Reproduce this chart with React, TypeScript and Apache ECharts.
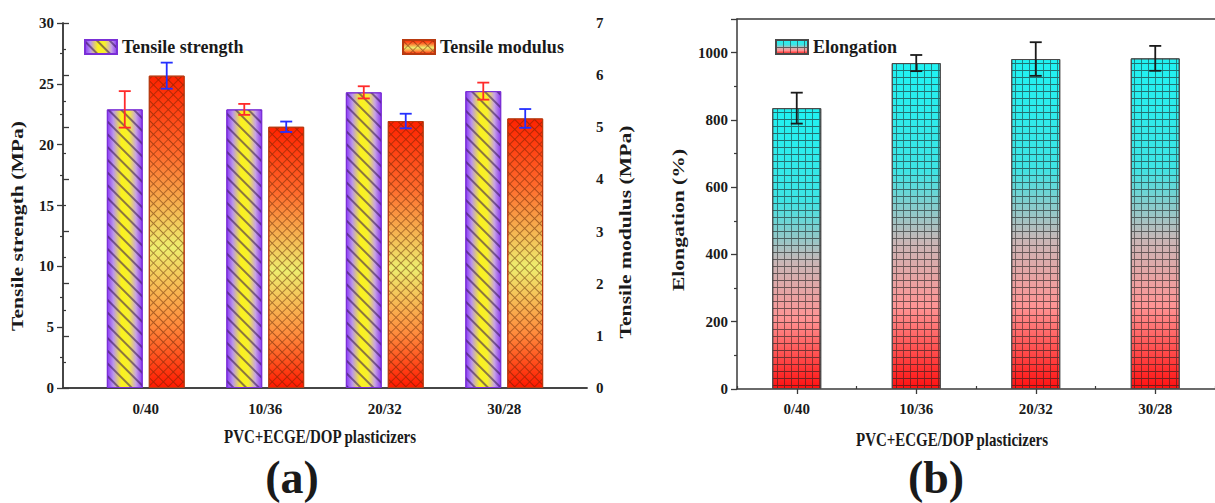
import React, { useEffect, useRef } from 'react';
import * as echarts from 'echarts';

const categories = ['0/40', '10/36', '20/32', '30/28'];
const tensileStrength = [22.9, 22.9, 24.3, 24.4];
const tensileStrengthErr = [1.5, 0.45, 0.5, 0.7];
const tensileModulus = [5.99, 5.01, 5.12, 5.17];
const tensileModulusErr = [0.25, 0.1, 0.14, 0.18];
const elongation = [835, 969, 981, 983];
const elongationErr = [46, 24, 50, 37];

const FONT = '"Liberation Serif", "Times New Roman", serif';
const AXIS_COLOR = '#3a3a3a';
const TEXT_COLOR = '#1a1a1a';

const gridPath = 'path://M0 0H8V1H1V8H0Z';

function errRender(sign: number, barRatio: number, gapRatio: number, color: string, capHalf: number) {
  return (params: any, api: any) => {
    const idx = api.value(0);
    const v = api.value(1);
    const e = api.value(2);
    const top = api.coord([idx, v + e]);
    const bot = api.coord([idx, v - e]);
    const band = api.size([1, 0])[0];
    const bw = band * barRatio;
    const x = top[0] + (sign * (bw + bw * gapRatio)) / 2;
    const style = { stroke: color, lineWidth: 1.8 };
    return {
      type: 'group',
      children: [
        { type: 'line', shape: { x1: x, y1: top[1], x2: x, y2: bot[1] }, style },
        { type: 'line', shape: { x1: x - capHalf, y1: top[1], x2: x + capHalf, y2: top[1] }, style },
        { type: 'line', shape: { x1: x - capHalf, y1: bot[1], x2: x + capHalf, y2: bot[1] }, style },
      ],
    };
  };
}

const labelStyle = { fontFamily: FONT, fontWeight: 'bold', fontSize: 15, color: TEXT_COLOR };

function frameAxis(gridIndex: number, position: string) {
  return {
    gridIndex,
    type: 'value',
    min: 0,
    max: 1,
    position,
    axisLine: { show: true, lineStyle: { color: AXIS_COLOR, width: 1.5 } },
    axisTick: { show: false },
    axisLabel: { show: false },
    splitLine: { show: false },
  };
}

function valueAxis(gridIndex: number, position: string, max: number, interval: number, extra: any = {}) {
  return {
    gridIndex,
    type: 'value',
    position,
    min: 0,
    max,
    interval,
    axisLine: { show: true, lineStyle: { color: AXIS_COLOR, width: 1.5 } },
    axisTick: { show: true, length: 6, inside: false, lineStyle: { color: AXIS_COLOR, width: 1.3 } },
    minorTick: { show: true, splitNumber: 2, length: 3, lineStyle: { color: AXIS_COLOR, width: 1.2 } },
    axisLabel: { ...labelStyle, margin: 9, formatter: (v: number) => String(v), ...(extra.axisLabel || {}) },
    splitLine: { show: false },
  };
}

function hiddenValueAxis(gridIndex: number, max: number) {
  return { gridIndex, type: 'value', min: 0, max, show: false, splitLine: { show: false } };
}

function rotatedTitle(text: string, x: number, y: number, stretch: number) {
  return {
    type: 'text', x, y, rotation: Math.PI / 2, scaleX: stretch, scaleY: 1,
    style: { text, font: `bold 16px ${FONT}`, fill: TEXT_COLOR, align: 'center', verticalAlign: 'middle', textAlign: 'center', textVerticalAlign: 'middle' },
  };
}

function flatText(text: string, x: number, y: number, size: number, stretchY: number) {
  return {
    type: 'text', x, y, scaleX: 1, scaleY: stretchY,
    style: { text, font: `bold ${size}px ${FONT}`, fill: TEXT_COLOR, align: 'center', verticalAlign: 'middle', textAlign: 'center', textVerticalAlign: 'middle' },
  };
}

export default function App() {
  const ref = useRef<HTMLDivElement>(null);

  useEffect(() => {
    if (!ref.current) return;
    const chart = echarts.init(ref.current, undefined, { renderer: 'svg' });

    const strengthColor = new echarts.graphic.LinearGradient(0, 0, 1, 0, [
      { offset: 0, color: '#8a3af5' },
      { offset: 0.17, color: '#b994ee' },
      { offset: 0.4, color: '#fbf21c' },
      { offset: 0.62, color: '#f6ef30' },
      { offset: 0.82, color: '#c7a2e4' },
      { offset: 1, color: '#8a3af5' },
    ]);
    const modulusColor = new echarts.graphic.LinearGradient(0, 0, 0, 1, [
      { offset: 0, color: '#ff2200' },
      { offset: 0.25, color: '#ff6a2c' },
      { offset: 0.55, color: '#eeee6e' },
      { offset: 0.8, color: '#ff8a3c' },
      { offset: 1, color: '#ff1800' },
    ]);
    const elongColor = new echarts.graphic.LinearGradient(0, 0, 0, 1, [
      { offset: 0, color: '#1ff2f2' },
      { offset: 0.33, color: '#3ee4e4' },
      { offset: 0.55, color: '#cab6b6' },
      { offset: 0.75, color: '#ff9494' },
      { offset: 1, color: '#ff1010' },
    ]);

    const stripeDecal = {
      symbol: 'rect',
      symbolSize: 1,
      color: 'rgba(50,20,80,0.55)',
      dashArrayX: [10, 0],
      dashArrayY: [2, 7],
      rotation: Math.PI / 4,
    };
    const crossDecal = {
      symbol: gridPath,
      symbolSize: 1,
      color: 'rgba(90,30,0,0.5)',
      dashArrayX: [7, 0],
      dashArrayY: [7, 0],
      rotation: Math.PI / 4,
    };
    const squareDecal = {
      symbol: gridPath,
      symbolSize: 1,
      color: 'rgba(30,30,30,0.6)',
      dashArrayX: [7, 0],
      dashArrayY: [7, 0],
      rotation: 0,
    };

    const legendText = { fontFamily: FONT, fontWeight: 'bold', fontSize: 18, color: TEXT_COLOR };
    const legendBase = { itemWidth: 32, itemHeight: 14, icon: 'rect', top: 33, textStyle: legendText, selectedMode: false };

    const option: any = {
      animation: false,
      backgroundColor: '#ffffff',
      grid: [
        { left: 63, top: 23, width: 524, height: 365 },
        { left: 86, top: 23, width: 478, height: 365 },
        { left: 737, top: 19, width: 489, height: 370 },
      ],
      legend: [
        { ...legendBase, left: 79, data: ['Tensile strength'] },
        { ...legendBase, left: 397, data: ['Tensile modulus'] },
        { ...legendBase, left: 770, data: ['Elongation'] },
      ],
      xAxis: [
        frameAxis(0, 'bottom'),
        frameAxis(0, 'top'),
        {
          gridIndex: 1,
          type: 'category',
          data: categories,
          axisLine: { show: false },
          axisTick: { show: false },
          axisLabel: { ...labelStyle, margin: 13 },
        },
        {
          gridIndex: 2,
          type: 'category',
          data: categories,
          axisLine: { show: true, lineStyle: { color: AXIS_COLOR, width: 1.5 } },
          axisTick: { show: true, alignWithLabel: true, length: 5, lineStyle: { color: AXIS_COLOR, width: 1.3 } },
          axisLabel: { ...labelStyle, margin: 12 },
        },
        {
          gridIndex: 2,
          type: 'category',
          data: categories,
          position: 'bottom',
          axisLine: { show: false },
          axisTick: { show: true, inside: true, length: 3, lineStyle: { color: AXIS_COLOR, width: 1.2 } },
          axisLabel: { show: false },
        },
        frameAxis(2, 'top'),
      ],
      yAxis: [
        valueAxis(0, 'left', 30, 5),
        valueAxis(0, 'right', 7, 1),
        hiddenValueAxis(1, 30),
        hiddenValueAxis(1, 7),
        valueAxis(2, 'left', 1100, 200, { axisLabel: { showMaxLabel: false } }),
      ],
      series: [
        {
          name: 'Tensile strength',
          type: 'bar',
          xAxisIndex: 2,
          yAxisIndex: 2,
          data: tensileStrength,
          barWidth: '30%',
          barGap: '17%',
          itemStyle: { color: strengthColor, borderColor: '#7a2fd6', borderWidth: 1, decal: stripeDecal },
        },
        {
          name: 'Tensile modulus',
          type: 'bar',
          xAxisIndex: 2,
          yAxisIndex: 3,
          data: tensileModulus,
          barWidth: '30%',
          barGap: '17%',
          itemStyle: { color: modulusColor, borderColor: '#b83a10', borderWidth: 1, decal: crossDecal },
        },
        {
          name: 'strengthErr',
          type: 'custom',
          xAxisIndex: 2,
          yAxisIndex: 2,
          z: 5,
          data: tensileStrength.map((v, i) => [i, v, tensileStrengthErr[i]]),
          renderItem: errRender(-1, 0.3, 0.17, '#ff2b2b', 6),
        },
        {
          name: 'modulusErr',
          type: 'custom',
          xAxisIndex: 2,
          yAxisIndex: 3,
          z: 5,
          data: tensileModulus.map((v, i) => [i, v, tensileModulusErr[i]]),
          renderItem: errRender(1, 0.3, 0.17, '#2430ff', 6),
        },
        {
          name: 'Elongation',
          type: 'bar',
          xAxisIndex: 3,
          yAxisIndex: 4,
          data: elongation,
          barWidth: '41%',
          itemStyle: { color: elongColor, borderColor: '#4a4a4a', borderWidth: 1, decal: squareDecal },
        },
        {
          name: 'elongErr',
          type: 'custom',
          xAxisIndex: 3,
          yAxisIndex: 4,
          z: 5,
          data: elongation.map((v, i) => [i, v, elongationErr[i]]),
          renderItem: errRender(0, 0.41, 0, '#1a1a1a', 6),
        },
      ],
      graphic: [
        rotatedTitle('Tensile strength (MPa)', 18, 226, 1.35),
        rotatedTitle('Tensile modulus (MPa)', 626, 232, 1.35),
        rotatedTitle('Elongation (%)', 679, 220, 1.35),
        flatText('PVC+ECGE/DOP plasticizers', 320, 437, 15, 1.2),
        flatText('PVC+ECGE/DOP plasticizers', 952, 440, 15, 1.2),
        flatText('(a)', 292, 477, 46, 1),
        flatText('(b)', 936, 477, 46, 1),
      ],
    };

    chart.setOption(option);
    return () => chart.dispose();
  }, []);

  return (
    <div
      ref={ref}
      style={{ position: 'fixed', left: 0, top: 0, width: 1215, height: 503, background: '#fff' }}
    />
  );
}
